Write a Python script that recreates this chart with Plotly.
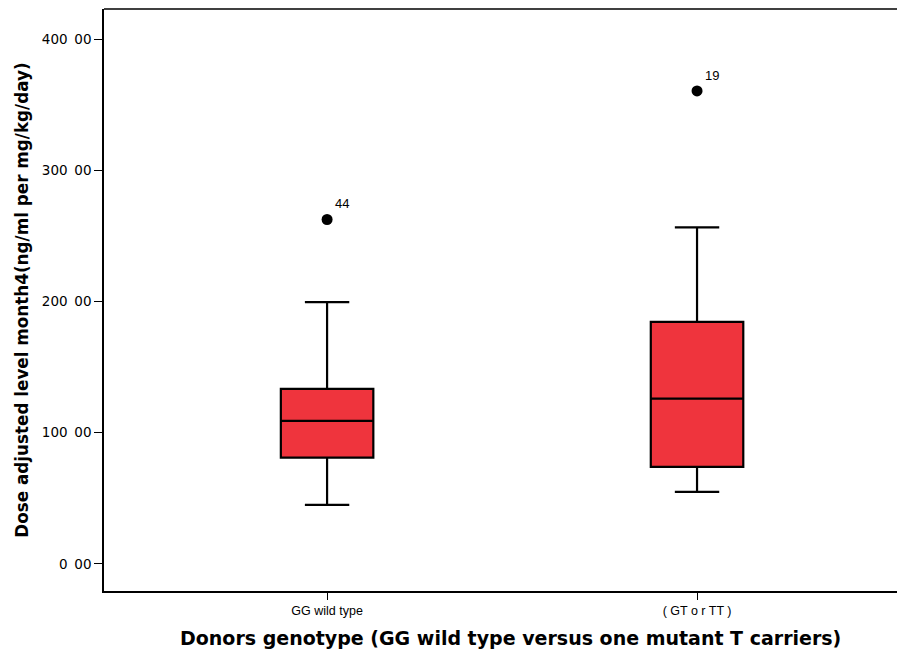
import plotly.graph_objects as go

categories = ["GG wild type", "( GT o r TT )"]
cat_pos = [0, 1]
q1 = [81, 74]
median = [109, 126]
q3 = [133.5, 184.5]
lower_whisker = [45, 55]
upper_whisker = [199.5, 256.5]
outlier_vals = [262.5, 360.5]
outlier_ids = ["44", "19"]
y_ticks = [0, 100, 200, 300, 400]
y_tick_labels = ["0\u200200", "100\u200200", "200\u200200", "300\u200200", "400\u200200"]
x_title = "<b>Donors genotype (GG wild type versus one mutant T carriers)</b>"
y_title = "<b>Dose adjusted level month4(ng/ml per mg/kg/day)</b>"

fig = go.Figure()
for i in range(len(categories)):
    fig.add_trace(go.Box(
        x=[cat_pos[i]], q1=[q1[i]], median=[median[i]], q3=[q3[i]],
        lowerfence=[lower_whisker[i]], upperfence=[upper_whisker[i]],
        width=0.25, whiskerwidth=0.48, boxpoints=False,
        fillcolor="#EF343D", line=dict(color="black", width=2.2),
        showlegend=False, hoverinfo="skip",
    ))

fig.add_trace(go.Scatter(
    x=cat_pos, y=outlier_vals, mode="markers+text",
    text=outlier_ids, textposition="top right",
    textfont=dict(family="Liberation Sans, Arial", size=13, color="black"),
    marker=dict(color="black", size=11),
    showlegend=False, hoverinfo="skip",
))

fig.add_annotation(
    text=x_title, xref="paper", yref="paper", x=0.513, y=-0.08,
    xanchor="center", yanchor="middle", showarrow=False,
    font=dict(family="DejaVu Sans", size=19, color="black"),
)
fig.add_shape(type="line", xref="paper", yref="paper", x0=0, x1=1, y0=1, y1=1,
              line=dict(color="black", width=1.5))

fig.update_layout(
    width=889, height=642,
    margin=dict(l=96, r=0, t=1, b=59),
    paper_bgcolor="white", plot_bgcolor="white",
    font=dict(family="Liberation Sans, Arial", color="black"),
    xaxis=dict(
        range=[-0.603, 1.5405], tickmode="array", tickvals=cat_pos, ticktext=categories,
        showgrid=False, zeroline=False, showline=True, mirror=False,
        linecolor="black", linewidth=1.5, ticks="outside", ticklen=7, tickcolor="black",
        tickfont=dict(size=12.5, color="black"),
    ),
    yaxis=dict(
        range=[-20.6, 422.9], tickmode="array", tickvals=y_ticks, ticktext=y_tick_labels,
        showgrid=False, zeroline=False, showline=True, mirror=False,
        linecolor="black", linewidth=1.5, ticks="outside", ticklen=8, tickcolor="black",
        tickfont=dict(family="DejaVu Sans", size=13.5, color="black"),
        title=dict(text=y_title,
                   font=dict(family="DejaVu Sans", size=16.8, color="black"), standoff=9),
    ),
)

fig.write_html("out.html")
